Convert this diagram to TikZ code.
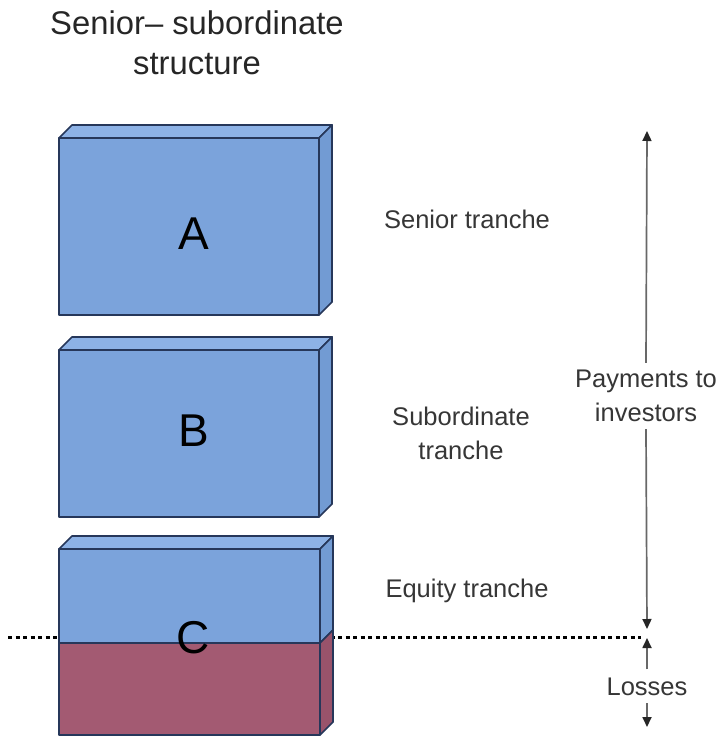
\documentclass[tikz,border=0pt]{standalone}
\usepackage{fontspec}
\setmainfont{Liberation Sans}
\usetikzlibrary{arrows.meta}

\definecolor{slabfront}{HTML}{7BA3DB}
\definecolor{slabtopc}{HTML}{8DB2E6}
\definecolor{slabsidec}{HTML}{729BD3}
\definecolor{lossfront}{HTML}{A35A72}
\definecolor{losssidec}{HTML}{99536B}
\definecolor{slabline}{HTML}{26375A}
\definecolor{labelgray}{HTML}{363636}
\definecolor{arrowgray}{HTML}{686868}

% one tranche slab: left, right, top, bottom (front face), depth 13
\newcommand\drawslab[4]{%
  \filldraw[slabedge, fill=slabtopc] (#1,#3) -- (#1+13,#3-13) -- (#2+13,#3-13) -- (#2,#3) -- cycle;
  \filldraw[slabedge, fill=slabsidec] (#2,#3) -- (#2+13,#3-13) -- (#2+13,#4-13) -- (#2,#4) -- cycle;
  \filldraw[slabedge, fill=slabfront] (#1,#3) rectangle (#2,#4);
}

\begin{document}
\begin{tikzpicture}[x=1pt, y=-1pt,
  slabedge/.style={draw=slabline, line width=1.7pt, line join=round},
  letter/.style={font=\fontsize{46}{46}\selectfont, text=black},
  sidelabel/.style={font=\fontsize{25.5}{34}\selectfont, text=labelgray, align=center},
  flow/.style={draw=arrowgray, line width=1.7pt,
    -{Triangle[width=9pt, length=10pt, fill=black!85, color=black!85]}},
  lossline/.style={draw=black, line width=3pt, dash pattern=on 4pt off 3.5pt}]
\useasboundingbox (0,0) rectangle (723,738);
\fill[white] (0,0) rectangle (723,738);

% title
\node[font=\fontsize{32.8}{40}\selectfont, text=black!85, align=center] (title) at (197,43)
  {Senior-- subordinate\\structure};

% loss threshold, behind the equity slab
\coordinate (cutL) at (8,637);
\coordinate (cutR) at (641,637);
\draw[lossline] (cutL) -- (cutR);

% senior and subordinate slabs
\drawslab{59}{319}{138}{315}
\drawslab{59}{319}{350}{517}

% equity slab: blue above the loss line, red below
\filldraw[slabedge, fill=slabtopc] (59,549) -- (72,536) -- (333,536) -- (320,549) -- cycle;
\filldraw[slabedge, fill=slabsidec] (320,549) -- (333,536) -- (333,630) -- (320,643) -- cycle;
\filldraw[slabedge, fill=losssidec] (320,643) -- (333,630) -- (333,722) -- (320,735) -- cycle;
\filldraw[slabedge, fill=slabfront] (59,549) rectangle (320,643);
\filldraw[slabedge, fill=lossfront] (59,643) rectangle (320,735);

\node[letter] (lA) at (194,234) {A};
\node[letter] (lB) at (194,431) {B};
\node[letter] (lC) at (193,638) {C};

% tranche labels
\node[sidelabel, anchor=base] (senior) at (467,228) {Senior tranche};
\node[sidelabel] (subord) at (461,433) {Subordinate\\tranche};
\node[sidelabel, anchor=base] (equity) at (467,597) {Equity tranche};

% payments and losses
\coordinate (paytop) at (647,131);
\coordinate (paybot) at (647,629);
\node[sidelabel, inner sep=7pt] (pay) at (646,396) {Payments to\\investors};
\draw[flow] (pay.north) -- (paytop);
\draw[flow] (pay.south) -- (paybot);

\coordinate (losstop) at (647,638);
\coordinate (lossbot) at (647,727);
\node[sidelabel, anchor=base, inner sep=8pt] (loss) at (647,695) {Losses};
\draw[flow] (loss.north) -- (losstop);
\draw[flow] (loss.south) -- (lossbot);
\end{tikzpicture}
\end{document}
